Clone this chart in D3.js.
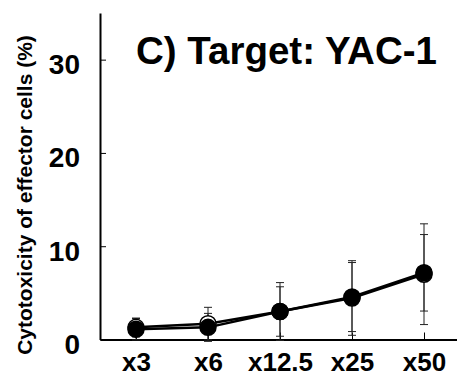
<!DOCTYPE html>
<html>
<head>
<meta charset="utf-8">
<script src="https://cdn.jsdelivr.net/npm/d3@7"></script>
<style>
  body { margin: 0; background: #fff; }
  svg text { font-family: "Liberation Sans", Arial, sans-serif; font-weight: bold; fill: #000; }
</style>
</head>
<body>
<div id="canvas"></div>
<script>
// effector : target ratios
const categories = ["x3", "x6", "x12.5", "x25", "x50"];
const yTicks = [0, 10, 20, 30];

// open circles
const openMean = [1.3, 1.7, 3.0, 4.45, 7.0];
const openSd = [1.0, 1.75, 3.1, 4.0, 5.4];
// filled circles
const filledMean = [1.1, 1.3, 3.0, 4.55, 7.15];
const filledSd = [1.15, 1.5, 2.65, 3.7, 4.1];

const width = 457;
const height = 379;

const svg = d3.select("#canvas").append("svg")
    .attr("width", width)
    .attr("height", height);

const x = d3.scalePoint()
    .domain(categories)
    .range([100, 460])
    .padding(0.5);

const y = d3.scaleLinear()
    .domain([0, 35])
    .range([339.5, 13]);

// axes
const yAxis = svg.append("g")
    .attr("transform", "translate(100,0)")
    .call(d3.axisLeft(y).tickValues(yTicks).tickSizeInner(-6).tickSizeOuter(0).tickPadding(20));
yAxis.select(".domain").attr("stroke-width", 2);
yAxis.selectAll("text").style("font-size", "28px").attr("dy", "0.5em");

const xAxis = svg.append("g")
    .attr("transform", "translate(0,339.5)")
    .call(d3.axisBottom(x).tickSizeInner(-7).tickSizeOuter(0).tickPadding(13));
xAxis.select(".domain").attr("stroke-width", 2);
xAxis.selectAll("text").style("font-size", "26px");

// titles
svg.append("text")
    .attr("x", 136)
    .attr("y", 64)
    .style("font-size", "38.5px")
    .text("C) Target: YAC-1");

svg.append("text")
    .attr("transform", "translate(32,195) rotate(-90)")
    .attr("text-anchor", "middle")
    .style("font-size", "21px")
    .text("Cytotoxicity of effector cells (%)");

const series = [
    { mean: openMean, sd: openSd, fill: "#fff" },
    { mean: filledMean, sd: filledSd, fill: "#000" }
];

// error bars
series.forEach(s => {
    const g = svg.append("g").attr("stroke", "#222").attr("stroke-width", 1);
    categories.forEach((c, i) => {
        const top = y(s.mean[i] + s.sd[i]);
        const bot = y(s.mean[i] - s.sd[i]);
        g.append("line").attr("x1", x(c)).attr("x2", x(c)).attr("y1", top).attr("y2", bot);
        g.append("line").attr("x1", x(c) - 4).attr("x2", x(c) + 4).attr("y1", top).attr("y2", top);
        g.append("line").attr("x1", x(c) - 4).attr("x2", x(c) + 4).attr("y1", bot).attr("y2", bot);
    });
});

const line = d3.line()
    .x((d, i) => x(categories[i]))
    .y(d => y(d));

series.forEach(s => {
    svg.append("path")
        .datum(s.mean)
        .attr("fill", "none")
        .attr("stroke", "#000")
        .attr("stroke-width", 2.5)
        .attr("d", line);
});

series.forEach(s => {
    svg.append("g").selectAll("circle")
        .data(s.mean)
        .enter().append("circle")
        .attr("cx", (d, i) => x(categories[i]))
        .attr("cy", d => y(d))
        .attr("r", 8)
        .attr("fill", s.fill)
        .attr("stroke", "#000")
        .attr("stroke-width", 1.5);
});
</script>
</body>
</html>
